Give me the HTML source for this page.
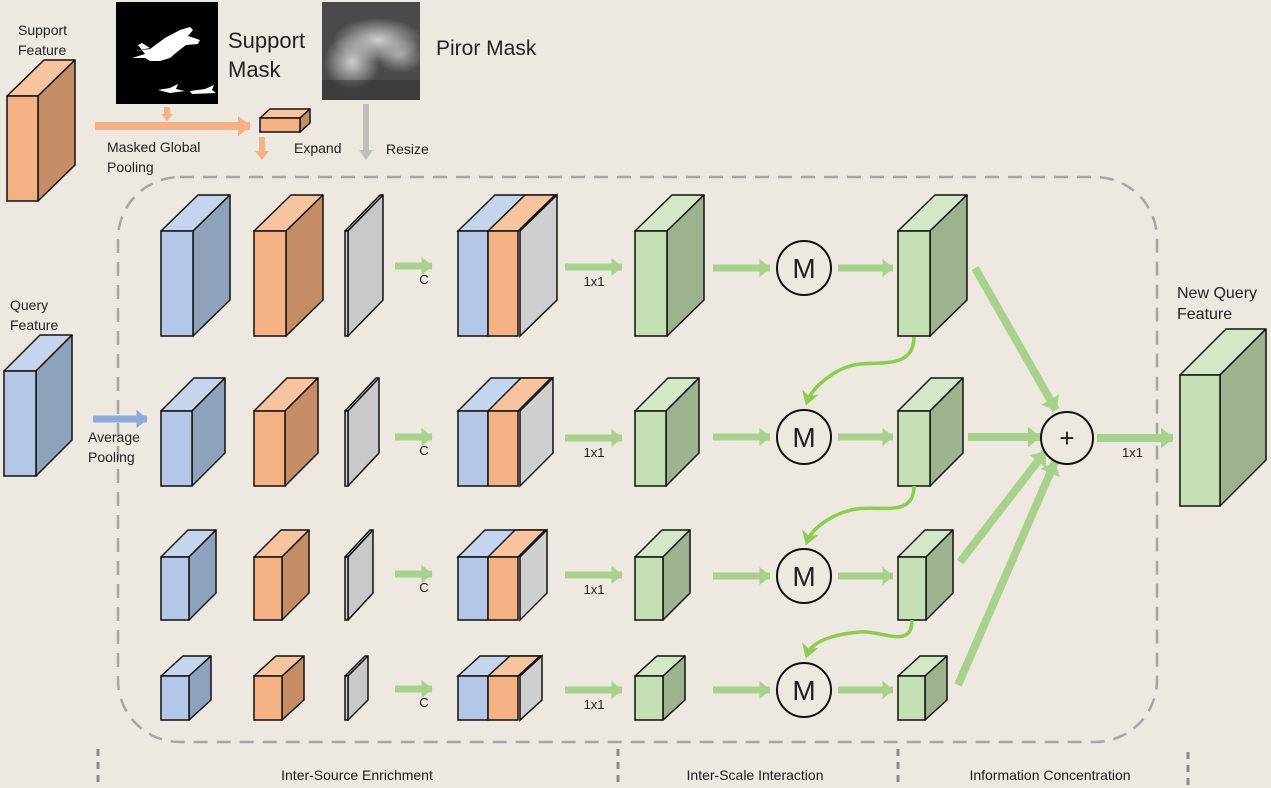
<!DOCTYPE html>
<html><head><meta charset="utf-8"><style>
html,body{margin:0;padding:0;background:#ede9e1;}
svg{display:block;font-family:"Liberation Sans","DejaVu Sans",sans-serif;}
</style></head><body>
<svg id="s" width="1271" height="788" viewBox="0 0 1271 788" xmlns="http://www.w3.org/2000/svg">
<defs>
<marker id="ag" markerWidth="1.6" markerHeight="2.6" refX="1.5" refY="1.3" orient="auto" markerUnits="strokeWidth" overflow="visible"><path d="M0,0 L1.6,1.3 L0,2.6Z" fill="#a9d18e"/></marker>
<marker id="ao" markerWidth="1.6" markerHeight="2.6" refX="1.5" refY="1.3" orient="auto" markerUnits="strokeWidth" overflow="visible"><path d="M0,0 L1.6,1.3 L0,2.6Z" fill="#f4b183"/></marker>
<marker id="ab" markerWidth="1.6" markerHeight="2.6" refX="1.5" refY="1.3" orient="auto" markerUnits="strokeWidth" overflow="visible"><path d="M0,0 L1.6,1.3 L0,2.6Z" fill="#8faadc"/></marker>
<marker id="ac" markerWidth="6" markerHeight="6" refX="3" refY="3" orient="auto" markerUnits="strokeWidth"><path d="M0,0.5 L4,3 L0,5.5 L1.2,3Z" fill="#8ccc50"/></marker>
<radialGradient id="g1" cx="0.5" cy="0.5" r="0.5"><stop offset="0" stop-color="#d0d0d0"/><stop offset="1" stop-color="#d0d0d0" stop-opacity="0"/></radialGradient>
</defs>
<rect width="1271" height="788" fill="#ede9e1"/>
<rect x="118" y="177" width="1039" height="565" rx="62" fill="none" stroke="#a6a6a6" stroke-width="2.5" stroke-dasharray="14,9"/>
<g stroke="#8c8c8c" stroke-width="3" stroke-dasharray="7,6">
<line x1="98" y1="749" x2="98" y2="788"/><line x1="618" y1="749" x2="618" y2="788"/>
<line x1="898" y1="749" x2="898" y2="788"/><line x1="1188" y1="752" x2="1188" y2="788"/>
</g>
<g font-size="14" fill="#1a1a1a" text-anchor="middle">
<text x="357" y="780">Inter-Source Enrichment</text>
<text x="755" y="780">Inter-Scale Interaction</text>
<text x="1050" y="780">Information Concentration</text>
</g>
<rect x="116" y="2" width="102" height="102" fill="#000"/>
<g fill="#fff">
<path d="M135,51 L150,49 L165,38 L180,30 L190,27 L193,30 L188,36 L200,40 L198,44 L186,45 L177,52 L170,58 L160,61 L150,61 L145,58 L132,58 L145,54 L138,45 L142,43 L150,48 Z"/>
<path d="M158,90 L170,88 L178,84 L176,89 L185,91 L170,93 Z"/>
<path d="M190,91 L205,89 L214,85 L212,90 L216,93 L192,94 Z"/>
</g>
<text x="228" y="48" font-size="22" fill="#222">Support</text>
<text x="228" y="77" font-size="22" fill="#222">Mask</text>
<rect x="322" y="2" width="98" height="98" fill="#4a4a4a"/>
<ellipse cx="378" cy="40" rx="45" ry="22" fill="url(#g1)"/>
<ellipse cx="352" cy="62" rx="28" ry="28" fill="url(#g1)"/>
<ellipse cx="400" cy="55" rx="25" ry="18" fill="url(#g1)" opacity="0.7"/>
<rect x="322" y="80" width="98" height="20" fill="#2a2a2a" opacity="0.4"/>
<text x="436" y="55" font-size="21" fill="#222">Piror Mask</text>
<line x1="95" y1="126" x2="250" y2="126" stroke="#f4b183" stroke-width="8" marker-end="url(#ao)"/>
<line x1="167" y1="107" x2="167" y2="115" stroke="#f4b183" stroke-width="6"/><path d="M161,114 L173,114 L167,121Z" fill="#f4b183"/>
<line x1="262" y1="137" x2="262" y2="152" stroke="#f4b183" stroke-width="6"/><path d="M255,151 L269,151 L262,160Z" fill="#f4b183"/>
<line x1="366" y1="104" x2="366" y2="151" stroke="#bfbfbf" stroke-width="6"/><path d="M359,150 L373,150 L366,160Z" fill="#bfbfbf"/>
<text x="107" y="152" font-size="14" fill="#222">Masked Global</text>
<text x="107" y="172" font-size="14" fill="#222">Pooling</text>
<text x="294" y="153" font-size="14" fill="#222">Expand</text>
<text x="386" y="154" font-size="14" fill="#222">Resize</text>
<text x="18" y="35" font-size="14" fill="#222">Support</text>
<text x="18" y="55" font-size="14" fill="#222">Feature</text>
<text x="10" y="310" font-size="14" fill="#222">Query</text>
<text x="10" y="330" font-size="14" fill="#222">Feature</text>
<text x="88" y="442" font-size="14" fill="#222">Average</text>
<text x="88" y="462" font-size="14" fill="#222">Pooling</text>
<line x1="93" y1="419" x2="147" y2="419" stroke="#8faadc" stroke-width="7" marker-end="url(#ab)"/>
<text x="1177" y="298" font-size="16" fill="#222">New Query</text>
<text x="1177" y="319" font-size="16" fill="#222">Feature</text>
<g id="shapes"></g>
<circle cx="1067" cy="438" r="26" fill="none" stroke="#111" stroke-width="2"/>
<text x="1067" y="447" font-size="26" text-anchor="middle" fill="#222">+</text>
<text x="1122" y="457" font-size="13" fill="#222">1x1</text>
</svg>
<script>
const NS="http://www.w3.org/2000/svg",G=document.getElementById('shapes');
function el(t,a){const e=document.createElementNS(NS,t);for(const k in a)e.setAttribute(k,a[k]);G.appendChild(e);return e;}
const C={b:["#b4c7e7","#c5d5ee","#8fa2bc"],o:["#f4b183","#f8c39f","#c58d66"],g:["#d0d0d0","#d8d8d8","#c8c8c8"],n:["#c5e0b4","#d3e8c6","#9db38f"]};
function cube(x,y,w,h,dx,dy,c){const k=C[c];
el('polygon',{points:`${x},${y} ${x+dx},${y-dy} ${x+w+dx},${y-dy} ${x+w},${y}`,fill:k[1],stroke:'#111','stroke-width':1.5,'stroke-linejoin':'round'});
el('polygon',{points:`${x+w},${y} ${x+w+dx},${y-dy} ${x+w+dx},${y+h-dy} ${x+w},${y+h}`,fill:k[2],stroke:'#111','stroke-width':1.5,'stroke-linejoin':'round'});
el('rect',{x:x,y:y,width:w,height:h,fill:k[0],stroke:'#111','stroke-width':1.5});}
function concat(x,y,w,h,dx,dy){
el('polygon',{points:`${x},${y} ${x+dx},${y-dy} ${x+w*2+dx},${y-dy} ${x+w*2},${y}`,fill:C.b[1],stroke:'#111','stroke-width':1.5});
el('polygon',{points:`${x+w},${y} ${x+w+dx},${y-dy} ${x+w*2+dx},${y-dy} ${x+w*2},${y}`,fill:C.o[1],stroke:'#111','stroke-width':1.5});
el('polygon',{points:`${x+2*w+2},${y} ${x+2*w+2+dx},${y-dy} ${x+2*w+2+dx},${y+h-dy} ${x+2*w+2},${y+h}`,fill:'#cfcfcf',stroke:'#111','stroke-width':1.5});
el('rect',{x:x,y:y,width:w,height:h,fill:C.b[0],stroke:'#111','stroke-width':1.5});
el('rect',{x:x+w,y:y,width:w,height:h,fill:C.o[0],stroke:'#111','stroke-width':1.5});}
function arr(x1,y1,x2,y2,sw){el('line',{x1,y1,x2,y2,stroke:'#a9d18e','stroke-width':sw||7,'marker-end':'url(#ag)'});}
function txt(x,y,s,sz){const t=el('text',{x,y,'font-size':sz||13,fill:'#222','text-anchor':'middle'});t.textContent=s;}
cube(7,96,31,105,37,36,'o');
cube(4,371,32,105,36,36,'b');
cube(1180,375,40,131,46,46,'n');
cube(260,118,40,14,10,9,'o');
const rows=[
{y:231,h:105,d:37,dy:36,w:32,ow:32,cy:266,M:268},
{y:411,h:75,d:33,dy:33,w:31,ow:32,cy:437,M:437},
{y:557,h:63,d:27,dy:27,w:28,ow:28,cy:574,M:576},
{y:676,h:44,d:22,dy:20,w:28,ow:27,cy:689,M:690}];
rows.forEach((r,i)=>{
cube(161,r.y,r.w,r.h,r.d,r.dy,'b');
cube(254,r.y,r.w,r.h,r.d,r.dy,'o');
cube(345,r.y,3,r.h,r.d-2,r.dy,'g');
concat(458,r.y,30,r.h,r.d,r.dy);
cube(635,r.y,r.w,r.h,r.d,r.dy,'n');
cube(898,r.y,r.ow,r.h,r.d,r.dy,'n');
arr(395,r.cy,432,r.cy);txt(424,r.cy+18,'C');
arr(565,r.cy+1,622,r.cy+1);txt(594,r.cy+20,'1x1');
arr(713,r.M,770,r.M);arr(838,r.M,893,r.M);
el('circle',{cx:804,cy:r.M,r:27,fill:'none',stroke:'#111','stroke-width':2});
const t=el('text',{x:804,y:r.M+10,'font-size':28,fill:'#222','text-anchor':'middle'});t.textContent='M';
});
[[914,337,807,407],[914,486,807,547],[912,620,807,660]].forEach(p=>{const[a,b,c,d]=p;
el('path',{d:`M${a},${b} C${a},${b+30} ${a-30},${(b+d)/2-10} ${(a+c)/2},${(b+d)/2-8} C${c+30},${(b+d)/2-6} ${c+5},${d-20} ${c},${d-5}`,fill:'none',stroke:'#8ccc50','stroke-width':3.5,'marker-end':'url(#ac)'});});
arr(975,268,1056,410,8);
arr(968,437,1040,437,8);
arr(960,562,1045,452,8);
arr(958,685,1055,462,8);
arr(1097,438,1173,438,8);
</script>
</body></html>
